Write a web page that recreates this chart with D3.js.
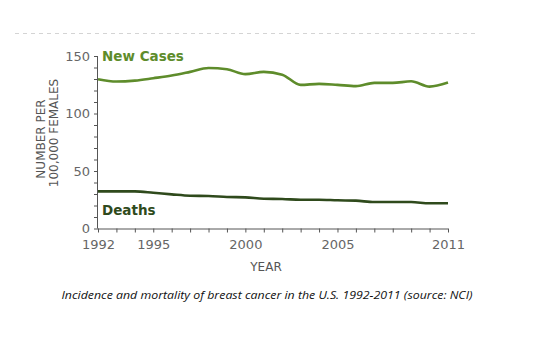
<!DOCTYPE html>
<html><head><meta charset="utf-8">
<script src="https://cdn.jsdelivr.net/npm/d3@7"></script>
<style>
body{margin:0;background:#fff;}
svg{display:block;}
</style>
</head><body>
<svg id="c" width="542" height="357"></svg>
<script>
const years = [1992,1993,1994,1995,1996,1997,1998,1999,2000,2001,2002,2003,2004,2005,2006,2007,2008,2009,2010,2011];
const newCases = [129.8,127.8,128.6,130.7,133,136.2,139.6,138.5,134.2,136.2,133.8,124.9,125.8,124.9,123.8,126.6,126.6,128,123.4,126.9];
const deaths = [32.3,32.3,32.3,31.1,29.7,28.5,28.3,27.4,27.1,25.9,25.7,25,25,24.5,24.2,23,23,23,21.9,21.9];
const xTickLabels = [1992,1995,2000,2005,2011];
const yTickLabels = [0,50,100,150];
const captionText = "Incidence and mortality of breast cancer in the U.S. 1992-2011 (source: NCI)";

const svg = d3.select("#c");
const x = d3.scaleLinear().domain([1992,2011]).range([98,448]);
const y = d3.scaleLinear().domain([0,150]).range([228.5,56]);

// dashed top line
svg.append("line").attr("x1",15).attr("x2",476).attr("y1",33.5).attr("y2",33.5)
  .attr("stroke","#d4d4d4").attr("stroke-width",1).attr("stroke-dasharray","4,4");

const font = "'DejaVu Sans', Verdana, sans-serif";
const axisColor = "#555";

// y axis
const yAxis = svg.append("g").attr("transform","translate(98,0)")
  .call(d3.axisLeft(y).tickValues(d3.range(0,151,10)).tickSize(4).tickFormat(d => yTickLabels.includes(d) ? d : ""));
yAxis.select(".domain").attr("stroke",axisColor).attr("d","M-0.5,"+y(150)+"V"+y(0));
yAxis.selectAll(".tick line").attr("stroke",axisColor);
yAxis.selectAll(".tick text").attr("font-family",font).attr("font-size","13px").attr("fill","#666").attr("dx","-1");

// x axis
const xAxis = svg.append("g").attr("transform","translate(0,"+y(0)+")")
  .call(d3.axisBottom(x).tickValues(years).tickSize(4).tickFormat(d => xTickLabels.includes(d) ? d : ""));
xAxis.select(".domain").attr("stroke",axisColor).attr("d","M"+x(1992)+",0.5H"+x(2011));
xAxis.selectAll(".tick line").attr("stroke",axisColor);
xAxis.selectAll(".tick text").attr("font-family",font).attr("font-size","13px").attr("fill","#666").attr("dy","1.05em");

// lines
const line = d3.line().x((d,i)=>x(years[i])).y(d=>y(d)).curve(d3.curveMonotoneX);
svg.append("path").datum(newCases).attr("d",line).attr("fill","none")
  .attr("stroke","#5e8c2b").attr("stroke-width",2.6).attr("stroke-linejoin","round");
svg.append("path").datum(deaths).attr("d",line).attr("fill","none")
  .attr("stroke","#2f4a1c").attr("stroke-width",2.6).attr("stroke-linejoin","round");

// series labels
svg.append("text").attr("x",102).attr("y",61).text("New Cases")
  .attr("font-family",font).attr("font-weight","bold").attr("font-size","13.5px").attr("fill","#5e8c2b");
svg.append("text").attr("x",102).attr("y",215).text("Deaths")
  .attr("font-family",font).attr("font-weight","bold").attr("font-size","13.5px").attr("fill","#2f4a1c");

// y title
svg.append("text").attr("transform","translate(45,139) rotate(-90)").attr("text-anchor","middle")
  .attr("font-family",font).attr("font-size","12px").attr("fill","#555").text("NUMBER PER");
svg.append("text").attr("transform","translate(58,133) rotate(-90)").attr("text-anchor","middle")
  .attr("font-family",font).attr("font-size","12px").attr("fill","#555").text("100,000 FEMALES");

// x title
svg.append("text").attr("x",266).attr("y",271).attr("text-anchor","middle")
  .attr("font-family",font).attr("font-size","12px").attr("fill","#555").text("YEAR");

// caption
svg.append("text").attr("x",267).attr("y",299).attr("text-anchor","middle")
  .attr("font-family","'Open Sans', 'Liberation Sans', sans-serif").attr("font-style","italic")
  .attr("font-size","11px").attr("fill","#111").attr("textLength",411).attr("lengthAdjust","spacingAndGlyphs").text(captionText);
</script>
</body></html>
